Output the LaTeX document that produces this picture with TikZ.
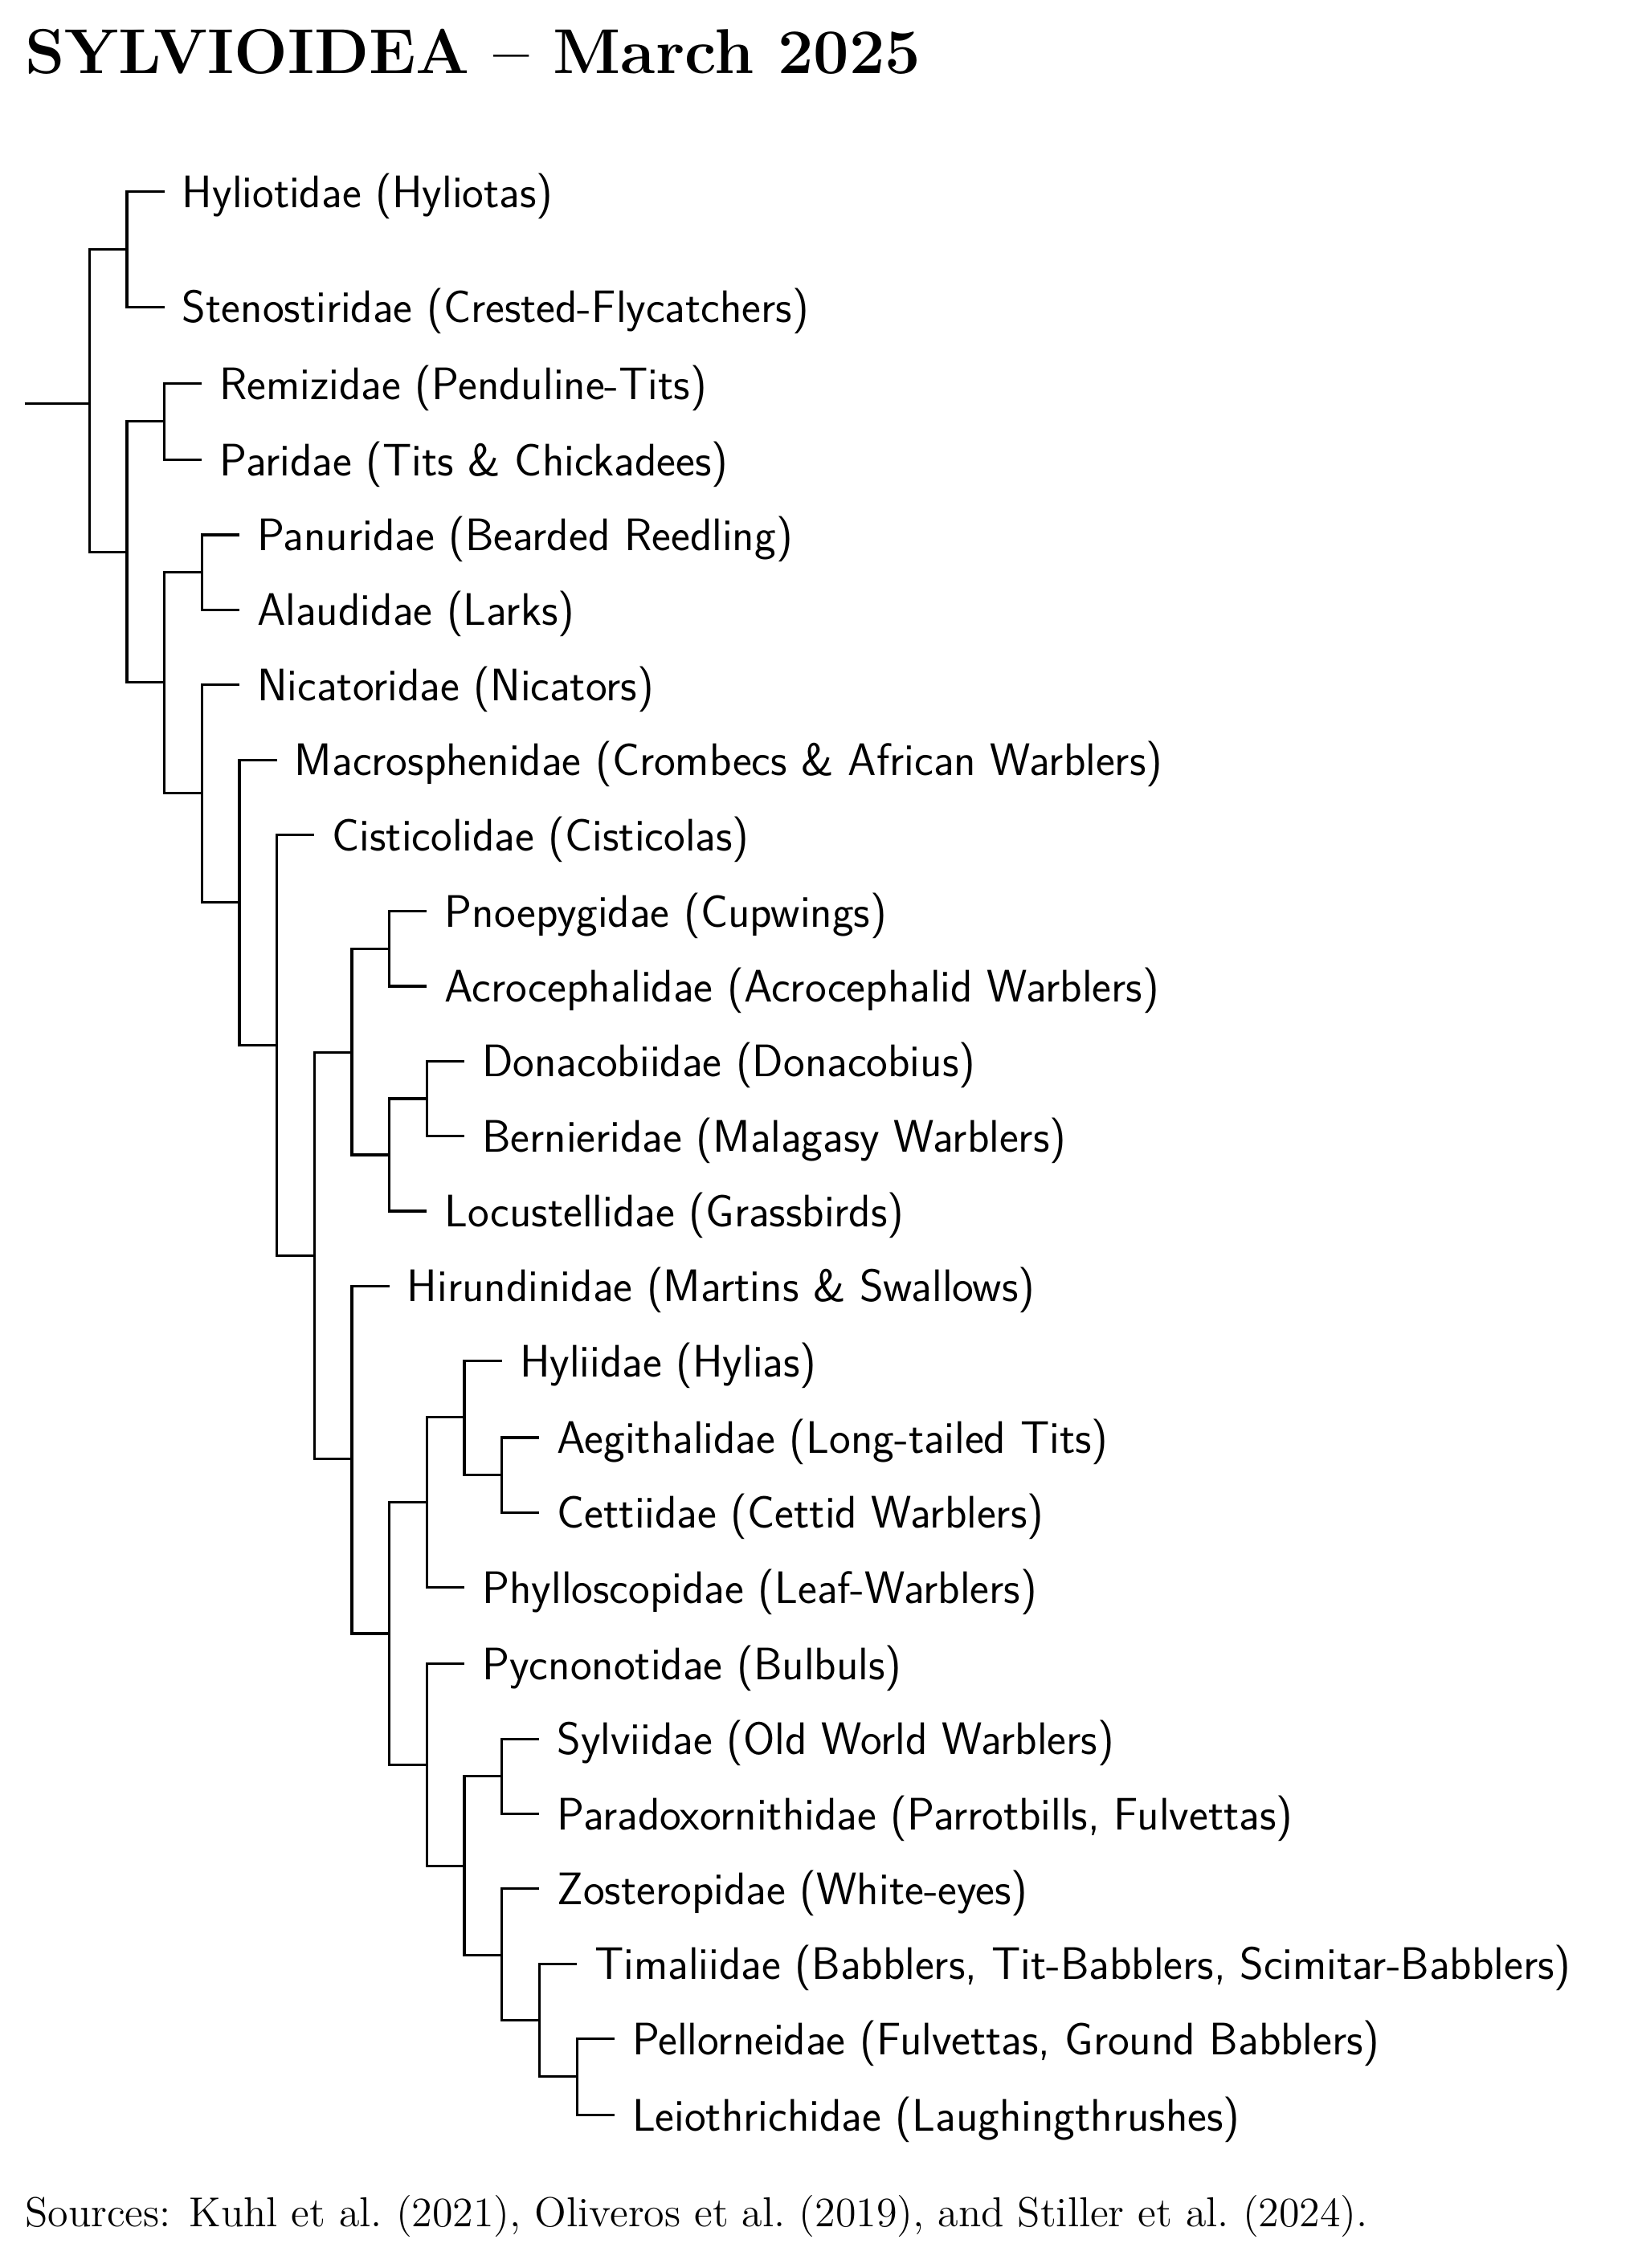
\documentclass[tikz,border=0pt]{standalone}
\usepackage{tikz}

\begin{document}
\begin{tikzpicture}[x=0.5pt, y=-0.5pt,
  branch/.style={draw=black, line width=0.9pt},
  taxon/.style={right, inner sep=0pt, xshift=6pt, yshift=-1.5pt, font=\fontsize{15.8}{18}\selectfont\sffamily}
]

% Canvas
\useasboundingbox (0,0) rectangle (1130,1573);

% Title and sources
\node[anchor=west, inner sep=0pt, font=\fontsize{22}{26}\selectfont\bfseries] (title) at (17,36) {SYLVIOIDEA -- March 2025};
\node[anchor=west, inner sep=0pt, font=\fontsize{14.5}{17}\selectfont] (sources) at (17,1537) {Sources: Kuhl et al.\ (2021), Oliveros et al.\ (2019), and Stiller et al.\ (2024).};

%% LEAVES (tick end, label)
\foreach \id/\x/\y/\txt in {
  hyl/114/133/{Hyliotidae (Hyliotas)},
  ste/114/213/{Stenostiridae (Crested-Flycatchers)},
  rem/140/266/{Remizidae (Penduline-Tits)},
  par/140/319/{Paridae (Tits \& Chickadees)},
  pan/166/371/{Panuridae (Bearded Reedling)},
  ala/166/423/{Alaudidae (Larks)},
  nic/166/475/{Nicatoridae (Nicators)},
  mac/192/527/{Macrosphenidae (Crombecs \& African Warblers)},
  cis/218/579/{Cisticolidae (Cisticolas)},
  pno/296/632/{Pnoepygidae (Cupwings)},
  acr/296/684/{Acrocephalidae (Acrocephalid Warblers)},
  don/322/736/{Donacobiidae (Donacobius)},
  ber/322/788/{Bernieridae (Malagasy Warblers)},
  loc/296/840/{Locustellidae (Grassbirds)},
  hir/270/892/{Hirundinidae (Martins \& Swallows)},
  hyi/348/944/{Hyliidae (Hylias)},
  aeg/374/997/{Aegithalidae (Long-tailed Tits)},
  cet/374/1049/{Cettiidae (Cettid Warblers)},
  phy/322/1101/{Phylloscopidae (Leaf-Warblers)},
  pyc/322/1154/{Pycnonotidae (Bulbuls)},
  syl/374/1206/{Sylviidae (Old World Warblers)},
  pdx/374/1258/{Paradoxornithidae (Parrotbills, Fulvettas)},
  zos/374/1310/{Zosteropidae (White-eyes)},
  tim/400/1362/{Timaliidae (Babblers, Tit-Babblers, Scimitar-Babblers)},
  pel/426/1414/{Pellorneidae (Fulvettas, Ground Babblers)},
  lei/426/1467/{Leiothrichidae (Laughingthrushes)}}
{
  \coordinate (\id) at (\x,\y);
  \node[taxon] (\id-lab) at (\id) {\txt};
}

%% CLADES
\coordinate (root) at (17,280);
\coordinate (cA) at (62,280);
\coordinate (cB) at (88,173);
\coordinate (cC) at (88,383);
\coordinate (cRP) at (114,292);
\coordinate (cD) at (114,473);
\coordinate (cPA) at (140,397);
\coordinate (cE) at (140,550);
\coordinate (cF) at (166,626);
\coordinate (cG) at (192,725);
\coordinate (cH) at (218,871);
\coordinate (cI) at (244,730);
\coordinate (cPnA) at (270,658);
\coordinate (cJ) at (270,801);
\coordinate (cDB) at (296,762);
\coordinate (cK) at (244,1012);
\coordinate (cL) at (270,1133);
\coordinate (cM) at (296,1042);
\coordinate (cN) at (322,983);
\coordinate (cAC) at (348,1023);
\coordinate (cO) at (296,1224);
\coordinate (cP) at (322,1294);
\coordinate (cSP) at (348,1232);
\coordinate (cQ) at (348,1356);
\coordinate (cR) at (374,1401);
\coordinate (cPL) at (400,1440);

%% BRANCHES
\draw[branch] (root) -- (cA);
\foreach \p/\c in {cA/cB, cA/cC, cB/hyl, cB/ste, cC/cRP, cC/cD, cRP/rem, cRP/par,
  cD/cPA, cD/cE, cPA/pan, cPA/ala, cE/nic, cE/cF, cF/mac, cF/cG, cG/cis, cG/cH,
  cH/cI, cH/cK, cI/cPnA, cI/cJ, cPnA/pno, cPnA/acr, cJ/cDB, cJ/loc, cDB/don, cDB/ber,
  cK/hir, cK/cL, cL/cM, cL/cO, cM/cN, cM/phy, cN/hyi, cN/cAC, cAC/aeg, cAC/cet,
  cO/pyc, cO/cP, cP/cSP, cP/cQ, cSP/syl, cSP/pdx, cQ/zos, cQ/cR, cR/tim, cR/cPL,
  cPL/pel, cPL/lei}
  \draw[branch] (\p) |- (\c);

\end{tikzpicture}
\end{document}
